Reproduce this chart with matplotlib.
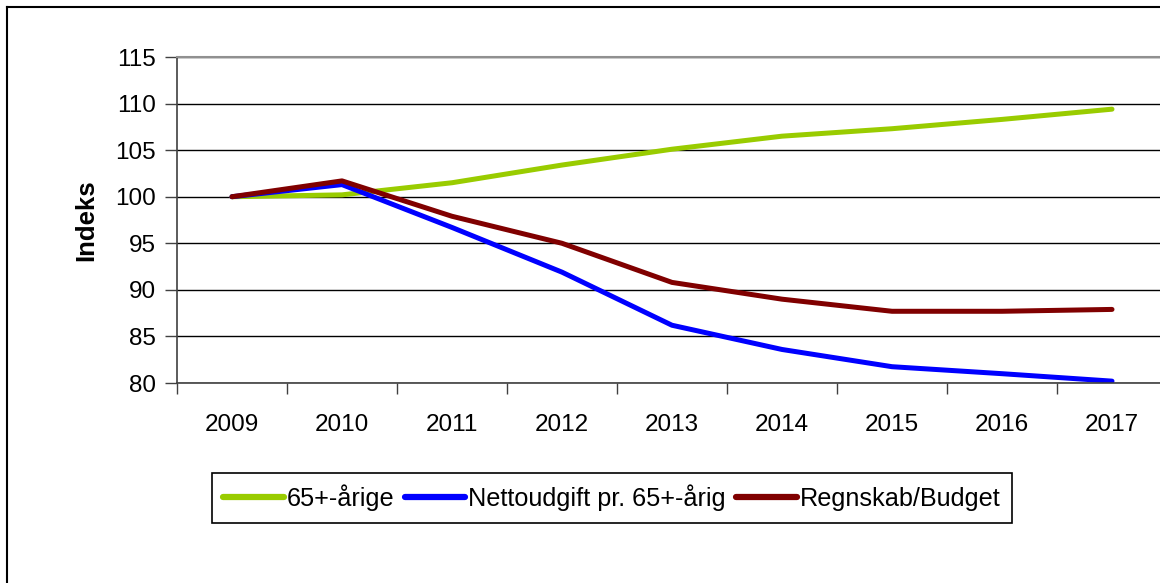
import matplotlib.pyplot as plt
import numpy as np

years = ['2009', '2010', '2011', '2012', '2013', '2014', '2015', '2016', '2017']
aarige_65 = [100.0, 100.2, 101.5, 103.4, 105.1, 106.5, 107.3, 108.3, 109.4]
nettoudgift = [100.0, 101.3, 96.7, 91.9, 86.2, 83.6, 81.75, 81.0, 80.2]
regnskab = [100.0, 101.7, 97.9, 95.0, 90.8, 89.0, 87.7, 87.7, 87.9]

plt.rcParams['font.family'] = ['Liberation Sans', 'DejaVu Sans']

fig = plt.figure(figsize=(11.6, 5.83), dpi=100)
ax = fig.add_axes([177 / 1160, 200 / 583, 990 / 1160, 326 / 583])

x = np.arange(len(years))
ax.plot(x, aarige_65, color='#99CC00', lw=3.6, solid_capstyle='round', label='65+-årige')
ax.plot(x, nettoudgift, color='#0000FF', lw=3.6, solid_capstyle='round', label='Nettoudgift pr. 65+-årig')
ax.plot(x, regnskab, color='#800000', lw=3.6, solid_capstyle='round', label='Regnskab/Budget')

ax.set_xlim(-0.5, 8.5)
ax.set_ylim(80, 115)
ax.set_yticks(range(80, 116, 5))
ax.yaxis.grid(True, color='black', lw=1)
ax.set_axisbelow(True)

ax.set_xticks(x)
ax.set_xticklabels(years)
ax.set_xticks(np.arange(-0.5, 9, 1), minor=True)
ax.tick_params(axis='x', which='major', length=0, pad=22, labelsize=17.5)
ax.tick_params(axis='x', which='minor', length=8, width=1, color='#404040')
ax.tick_params(axis='y', length=9, width=1, color='#404040', labelsize=17.5, pad=6)

ax.spines['right'].set_visible(False)
ax.spines['top'].set_color('#909090')
ax.spines['top'].set_linewidth(1.5)
ax.spines['left'].set_color('#404040')
ax.spines['bottom'].set_color('#404040')
ax.spines['left'].set_linewidth(1.2)
ax.spines['bottom'].set_linewidth(1.2)

ax.set_ylabel('Indeks', fontsize=18.5, fontweight='bold', labelpad=12)

leg = fig.legend(loc='center', bbox_to_anchor=(612 / 1160, 1 - 498 / 583), ncol=3,
                 frameon=True, fancybox=False, edgecolor='black', framealpha=1,
                 fontsize=18.2, handlelength=2.4, handletextpad=0.12, columnspacing=0.4,
                 borderpad=0.45, borderaxespad=0)
leg.get_frame().set_linewidth(1.2)
for h in leg.get_lines():
    h.set_linewidth(4.5)

# outer chart border (left and top visible)
fig.add_artist(plt.Line2D([6.5 / 1160, 6.5 / 1160], [0, 1 - 7 / 583], color='black', lw=1.5))
fig.add_artist(plt.Line2D([6.5 / 1160, 1], [1 - 7 / 583, 1 - 7 / 583], color='black', lw=1.5))

plt.savefig('out.png', dpi=100)
plt.close()
